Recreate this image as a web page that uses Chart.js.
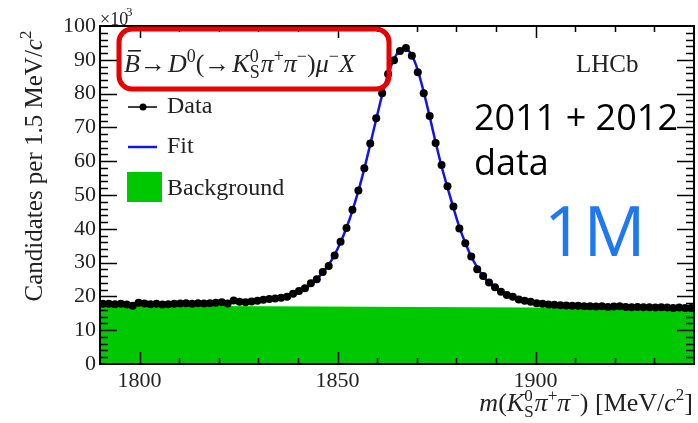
<!DOCTYPE html>
<html>
<head>
    <title>D0 mass fit</title>
    <script src="https://cdn.jsdelivr.net/npm/chart.js"></script>
    <style>
        body { margin: 0; background: #fff; }
    </style>
</head>
<body>
    <canvas id="mass-chart" width="698" height="423"></canvas>

    <script>
        // binning of the histogram: 1.5 MeV bins from 1790 to 1940
        const binStart = 1790;
        const binWidth = 1.5;

        // candidates per bin, in units of 10^3
        const dataCounts = [
            17.8, 17.8, 17.7, 17.8, 17.6, 17.2, 18.1, 17.9, 17.7, 17.8,
            17.6, 17.7, 17.8, 17.9, 18.0, 17.8, 18.0, 17.9, 18.0, 18.1,
            18.3, 17.9, 18.8, 18.4, 18.3, 18.5, 18.7, 19.0, 19.2, 19.4,
            19.6, 19.9, 20.8, 21.6, 22.4, 23.9, 25.1, 27.2, 29.0, 32.1,
            36.2, 40.2, 45.6, 51.3, 57.9, 65.2, 72.7, 80.1, 85.8, 89.9,
            92.6, 93.5, 91.2, 86.3, 80.1, 73.4, 65.4, 58.9, 52.6, 46.6,
            40.1, 35.7, 31.8, 28.0, 26.0, 24.1, 22.7, 21.4, 20.4, 19.9,
            19.1, 18.7, 18.4, 18.0, 17.8, 17.6, 17.5, 17.4, 17.3, 17.2,
            17.2, 17.1, 17.1, 17.0, 17.1, 16.9, 17.0, 17.1, 16.9, 16.8,
            16.9, 16.8, 16.8, 16.7, 16.8, 16.7, 16.6, 16.7, 16.6, 16.6
        ];

        // total fit at the same bin centres
        const fitCounts = [
            17.75, 17.76, 17.77, 17.78, 17.79, 17.80, 17.81, 17.82, 17.83, 17.85,
            17.87, 17.89, 17.91, 17.94, 17.97, 18.00, 18.04, 18.08, 18.13, 18.18,
            18.24, 18.31, 18.39, 18.48, 18.58, 18.70, 18.84, 19.00, 19.20, 19.45,
            19.75, 20.10, 20.60, 21.30, 22.20, 23.50, 25.10, 27.10, 29.40, 32.30,
            36.00, 40.30, 45.40, 51.20, 57.80, 65.00, 72.40, 79.60, 85.70, 90.20,
            92.80, 93.20, 91.30, 86.90, 80.50, 73.20, 65.60, 58.50, 52.20, 46.20,
            40.50, 35.80, 31.80, 28.60, 26.00, 24.00, 22.50, 21.30, 20.30, 19.60,
            19.00, 18.60, 18.20, 17.90, 17.70, 17.50, 17.40, 17.30, 17.20, 17.15,
            17.10, 17.05, 17.00, 16.98, 16.96, 16.94, 16.92, 16.90, 16.88, 16.86,
            16.84, 16.82, 16.80, 16.78, 16.76, 16.74, 16.72, 16.70, 16.68, 16.66
        ];

        // linear background component
        const bkgMass = [1790, 1940];
        const bkgCounts = [17.3, 16.5];

        const xTicks = [1800, 1850, 1900];

        const binCentres = dataCounts.map((_, i) => binStart + binWidth * (i + 0.5));
        const toPoints = (xs, ys) => ys.map((y, i) => ({ x: xs[i], y: y }));

        const serif = '"Liberation Serif", "Times New Roman", serif';
        const ink = '#222';

        // draws a run of text pieces (italics, super/subscripts, stacked indices)
        function rich(ctx, x, y, parts, draw) {
            let cx = x;
            for (const p of parts) {
                ctx.font = p.f;
                if (p.sup !== undefined) {
                    const w = Math.max(ctx.measureText(p.sup).width, ctx.measureText(p.sub).width);
                    if (draw) {
                        ctx.fillText(p.sup, cx, y + p.up);
                        ctx.fillText(p.sub, cx, y + p.down);
                    }
                    cx += w + 1;
                } else {
                    const w = ctx.measureText(p.t).width;
                    if (draw) {
                        ctx.fillText(p.t, cx, y + (p.dy || 0));
                        if (p.over) ctx.fillRect(cx + 4, y - p.over, w - 3, 1.6);
                    }
                    cx += w + (p.gap || 0);
                }
            }
            return cx - x;
        }

        const it = 'italic 26px ' + serif;
        const rm = '26px ' + serif;
        const sm = '18px ' + serif;

        const headerParts = [
            { t: 'B', f: it, over: 22 }, { t: '\u2192', f: rm, gap: 2 }, { t: 'D', f: it },
            { t: '0', f: sm, dy: -10 }, { t: '(\u2192', f: rm, gap: 2 }, { t: 'K', f: it },
            { sup: '0', sub: 'S', f: sm, up: -10, down: 6 },
            { t: '\u03c0', f: it }, { t: '+', f: sm, dy: -10 }, { t: '\u03c0', f: it },
            { t: '\u2212', f: sm, dy: -10 }, { t: ')', f: rm }, { t: '\u03bc', f: it },
            { t: '\u2212', f: sm, dy: -10 }, { t: 'X', f: it }
        ];

        const xit = 'italic 26px ' + serif;
        const xrm = '26px ' + serif;
        const xsm = '17px ' + serif;
        const xTitleParts = [
            { t: 'm', f: xit }, { t: '(', f: xrm }, { t: 'K', f: xit },
            { sup: '0', sub: 'S', f: xsm, up: -10, down: 6 },
            { t: '\u03c0', f: xit }, { t: '+', f: xsm, dy: -10 }, { t: '\u03c0', f: xit },
            { t: '\u2212', f: xsm, dy: -10 }, { t: ') [MeV/', f: xrm }, { t: 'c', f: xit },
            { t: '2', f: xsm, dy: -11 }, { t: ']', f: xrm }
        ];

        const yTitleParts = [
            { t: 'Candidates per 1.5 MeV/', f: '25px ' + serif }, { t: 'c', f: 'italic 25px ' + serif },
            { t: '2', f: '17px ' + serif, dy: -11 }
        ];

        const decorations = {
            id: 'decorations',
            afterDatasetsDraw(chart) {
                const { ctx, chartArea: a, scales } = chart;
                ctx.save();
                ctx.strokeStyle = '#000';
                ctx.lineWidth = 2;
                ctx.strokeRect(a.left, a.top, a.right - a.left, a.bottom - a.top);

                // ticks pointing into the frame, on all four sides
                ctx.lineWidth = 1.5;
                ctx.beginPath();
                for (let v = 2; v < 100; v += 2) {
                    const py = Math.round(scales.y.getPixelForValue(v)) + 0.5;
                    const len = v % 10 === 0 ? 17 : 8;
                    ctx.moveTo(a.left, py); ctx.lineTo(a.left + len, py);
                    ctx.moveTo(a.right, py); ctx.lineTo(a.right - len, py);
                }
                for (let v = 1800; v < 1940; v += 10) {
                    const px = Math.round(scales.x.getPixelForValue(v)) + 0.5;
                    const len = v % 50 === 0 ? 12 : 6;
                    ctx.moveTo(px, a.bottom); ctx.lineTo(px, a.bottom - len);
                    ctx.moveTo(px, a.top); ctx.lineTo(px, a.top + len);
                }
                ctx.stroke();
                ctx.restore();
            },
            afterDraw(chart) {
                const { ctx, chartArea: a } = chart;
                ctx.save();
                ctx.fillStyle = ink;
                ctx.textBaseline = 'alphabetic';

                // exponent label
                ctx.font = '18px ' + serif;
                ctx.fillText('\u00d710', a.left, 25);
                ctx.font = '13px ' + serif;
                ctx.fillText('3', a.left + 26, 16);

                // y title, rotated
                ctx.save();
                ctx.translate(42, 166);
                ctx.rotate(-Math.PI / 2);
                const yw = rich(ctx, 0, 0, yTitleParts, false);
                rich(ctx, -yw / 2, 0, yTitleParts, true);
                ctx.restore();

                // x title, right aligned
                const xw = rich(ctx, 0, 0, xTitleParts, false);
                rich(ctx, 693 - xw, 411, xTitleParts, true);

                // header with red frame
                rich(ctx, 124, 72, headerParts, true);
                ctx.strokeStyle = '#e60000';
                ctx.lineWidth = 5;
                ctx.beginPath();
                ctx.roundRect(119, 29, 270, 60, 13);
                ctx.stroke();

                // legend
                const dsData = chart.data.datasets[0];
                const dsFit = chart.data.datasets[1];
                const dsBkg = chart.data.datasets[2];
                ctx.strokeStyle = '#000';
                ctx.lineWidth = 1.5;
                ctx.beginPath();
                ctx.moveTo(128, 107); ctx.lineTo(157, 107);
                ctx.stroke();
                ctx.fillStyle = dsData.pointBackgroundColor;
                ctx.beginPath();
                ctx.arc(143, 107, 3.5, 0, Math.PI * 2);
                ctx.fill();
                ctx.strokeStyle = dsFit.borderColor;
                ctx.lineWidth = dsFit.borderWidth;
                ctx.beginPath();
                ctx.moveTo(128, 147); ctx.lineTo(157, 147);
                ctx.stroke();
                ctx.fillStyle = dsBkg.backgroundColor;
                ctx.fillRect(127, 172, 35, 30);

                ctx.fillStyle = ink;
                ctx.font = '24px ' + serif;
                ctx.fillText(dsData.label, 167, 113);
                ctx.fillText(dsFit.label, 167, 153);
                ctx.fillText(dsBkg.label, 167, 195);

                ctx.font = '25px ' + serif;
                ctx.fillText('LHCb', 576, 72);

                // annotations
                ctx.fillStyle = '#000';
                ctx.font = '36px "Open Sans"';
                ctx.fillText('2011 + 2012', 474, 130);
                ctx.fillText('data', 474, 175);
                ctx.fillStyle = '#1e78f0';
                ctx.font = '69px "Open Sans"';
                ctx.fillText('1M', 544, 256);
                ctx.restore();
            }
        };

        new Chart(document.getElementById('mass-chart').getContext('2d'), {
            type: 'line',
            data: {
                datasets: [
                    {
                        label: 'Data',
                        data: toPoints(binCentres, dataCounts),
                        showLine: false,
                        pointRadius: 4,
                        pointBorderWidth: 0,
                        pointBackgroundColor: '#000',
                        order: 1
                    },
                    {
                        label: 'Fit',
                        data: toPoints(binCentres, fitCounts),
                        borderColor: '#1414e6',
                        borderWidth: 2.5,
                        pointRadius: 0,
                        cubicInterpolationMode: 'monotone',
                        order: 2
                    },
                    {
                        label: 'Background',
                        data: toPoints(bkgMass, bkgCounts),
                        borderWidth: 0,
                        pointRadius: 0,
                        backgroundColor: '#00c800',
                        fill: 'origin',
                        order: 3
                    }
                ]
            },
            options: {
                responsive: false,
                animation: false,
                layout: { padding: { top: 26, right: 3 } },
                plugins: {
                    legend: { display: false },
                    tooltip: { enabled: false }
                },
                scales: {
                    x: {
                        type: 'linear',
                        min: 1790,
                        max: 1940,
                        grid: { display: false, drawTicks: false },
                        border: { display: false },
                        afterBuildTicks: scale => { scale.ticks = xTicks.map(v => ({ value: v })); },
                        afterFit: scale => { scale.height = 59; },
                        ticks: {
                            color: ink,
                            padding: 4,
                            maxRotation: 0,
                            callback: v => String(v),
                            font: { family: serif, size: 22 }
                        }
                    },
                    y: {
                        min: 0,
                        max: 100,
                        grid: { display: false, drawTicks: false },
                        border: { display: false },
                        afterFit: scale => { scale.width = 100; },
                        ticks: {
                            stepSize: 10,
                            color: ink,
                            padding: 4,
                            font: { family: serif, size: 22 }
                        }
                    }
                }
            },
            plugins: [decorations]
        });
    </script>
</body>
</html>
